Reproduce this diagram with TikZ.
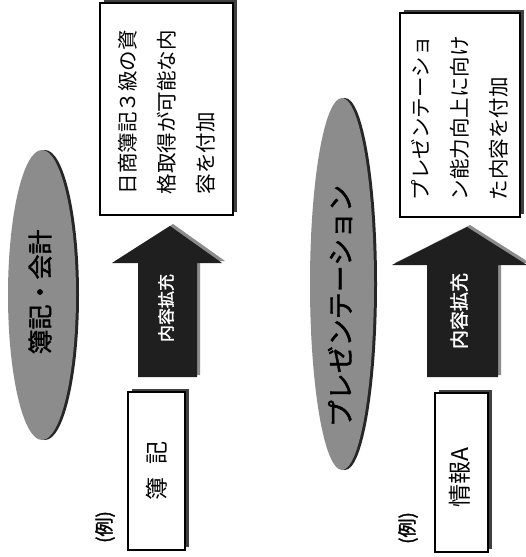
\documentclass[tikz,border=0pt]{standalone}
\usepackage{fontspec}
\newfontfamily\jp{Noto Sans CJK JP}
\newfontfamily\jpb[FakeBold=1.5]{Noto Sans CJK JP}
\usetikzlibrary{shapes.geometric,shadows}
\begin{document}
\begin{tikzpicture}[x=1pt,y=-1pt,
  box/.style={draw=black, line width=1.3pt, fill=white, inner sep=0pt,
    drop shadow={shadow xshift=4pt, shadow yshift=3pt, fill=black!75, opacity=1}},
  boxtext/.style={rotate=90, inner sep=0pt, align=left, font=\jp\fontsize{20.5}{39}\selectfont},
  oval/.style={ellipse, draw=none, fill=black!45, inner sep=0pt,
    drop shadow={shadow xshift=3pt, shadow yshift=0pt, fill=black!85, opacity=1}},
  ovaltext/.style={rotate=90, inner sep=0pt, font=\jpb\fontsize{25}{25}\selectfont},
  bigarrow/.style={fill=black!88, draw=none,
    drop shadow={shadow xshift=3pt, shadow yshift=2pt, fill=black!45, opacity=1}},
  arrowtext/.style={rotate=90, inner sep=0pt, text=white, font=\jpb\fontsize{17}{17}\selectfont},
  smalltext/.style={rotate=90, inner sep=0pt, font=\jp\fontsize{23}{23}\selectfont},
  rei/.style={rotate=90, inner sep=0pt, font=\jpb\fontsize{19}{19}\selectfont}]
\useasboundingbox (0,0) rectangle (525,557);
\fill[white] (0,0) rectangle (525,557);

% ---------- left example ----------
\node[box, minimum width=133pt, minimum height=212pt] (b1) at (166.5,109) {};
\node[boxtext, text width=170pt] (t1) at (b1.center) {日商簿記３級の資\\格取得が可能な内\\容を付加};

\node[oval, minimum width=68pt, minimum height=290pt] (e1) at (42,295) {};
\node[ovaltext] (et1) at (40,292) {簿記・会計};

\path[bigarrow] (170,226) coordinate (a1tip) -- (222,263) -- (197,263) -- (197,377) -- (138,377) -- (138,263) -- (112,263) -- cycle;
\node[arrowtext] (at1) at (166,308) {内容拡充};

\node[box, minimum width=57pt, minimum height=158pt] (s1) at (156.5,471) {};
\node[smalltext] (st1) at (s1.center) {簿\hspace{0.6em}記};
\node[rei] (r1) at (105,527) {(例)};

% ---------- right example ----------
\node[box, minimum width=120pt, minimum height=204pt] (b2) at (460,115) {};
\node[boxtext, text width=170pt] (t2) at (b2.center) {プレゼンテーショ\\ン能力向上に向け\\た内容を付加};

\node[oval, minimum width=64pt, minimum height=372pt] (e2) at (342,284) {};
\node[ovaltext, font=\jpb\fontsize{27}{27}\selectfont] (et2) at (340,306) {プレゼンテーション};

\path[bigarrow] (467,227) coordinate (a2tip) -- (527,265) -- (498,265) -- (498,377) -- (427,377) -- (427,265) -- (392,265) -- cycle;
\node[arrowtext, font=\jpb\fontsize{19}{19}\selectfont] (at2) at (459,311) {内容拡充};

\node[box, minimum width=53pt, minimum height=159pt] (s2) at (461.5,472.5) {};
\node[smalltext] (st2) at (460,478) {情報A};
\node[rei] (r2) at (408,528) {(例)};
\end{tikzpicture}
\end{document}
